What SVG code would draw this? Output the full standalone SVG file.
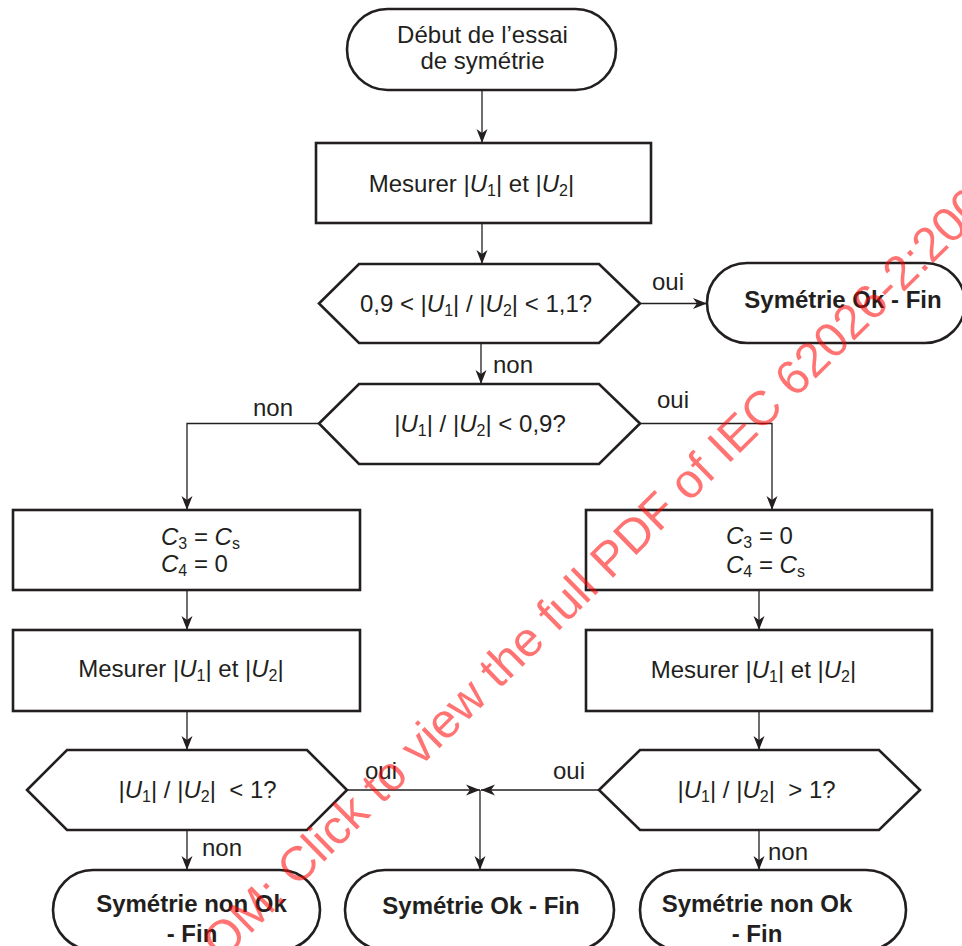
<svg xmlns="http://www.w3.org/2000/svg" width="962" height="946" viewBox="0 0 962 946">
<defs>
<style>
.n{fill:#fff;stroke:#231f20;stroke-width:2.6}
.c{fill:none;stroke:#231f20;stroke-width:1.3}
.t{font-family:"Liberation Sans",Arial,sans-serif;font-size:24px;fill:#231f20}
.m{text-anchor:middle}
.b{font-weight:bold}
.i{font-style:italic}
.s{font-size:16px}
.p{white-space:pre}
.wm{font-family:"Liberation Sans",Arial,sans-serif;font-size:48.5px;fill:#ff0000;fill-opacity:0.55}
</style>
<marker id="arr" viewBox="-15 -6 16 12" refX="0" refY="0" markerWidth="16" markerHeight="12" orient="auto" markerUnits="userSpaceOnUse">
<path d="M0,0 L-14,-5.5 L-10,0 L-14,5.5 Z" fill="#231f20"/>
</marker>
</defs>
<rect width="962" height="946" fill="#fff"/>

<g id="connectors">
<line class="c" x1="482" y1="90" x2="482" y2="143" marker-end="url(#arr)"/>
<line class="c" x1="482" y1="223" x2="482" y2="264" marker-end="url(#arr)"/>
<line class="c" x1="640" y1="303.5" x2="707" y2="303.5" marker-end="url(#arr)"/>
<line class="c" x1="481" y1="343" x2="481" y2="384" marker-end="url(#arr)"/>
<polyline class="c" points="319,423.5 187,423.5 187,510" marker-end="url(#arr)"/>
<polyline class="c" points="640,423.5 772,423.5 772,510" marker-end="url(#arr)"/>
<line class="c" x1="187" y1="590" x2="187" y2="630" marker-end="url(#arr)"/>
<line class="c" x1="759" y1="590" x2="759" y2="630" marker-end="url(#arr)"/>
<line class="c" x1="187" y1="711" x2="187" y2="750" marker-end="url(#arr)"/>
<line class="c" x1="759" y1="711" x2="759" y2="750" marker-end="url(#arr)"/>
<line class="c" x1="347" y1="790" x2="480" y2="790" marker-end="url(#arr)"/>
<line class="c" x1="599" y1="790" x2="481" y2="790" marker-end="url(#arr)"/>
<line class="c" x1="480" y1="790" x2="480" y2="870" marker-end="url(#arr)"/>
<line class="c" x1="187" y1="830" x2="187" y2="870" marker-end="url(#arr)"/>
<line class="c" x1="759" y1="830" x2="759" y2="870" marker-end="url(#arr)"/>
<text class="t" x="652" y="290">oui</text>
<text class="t" x="493" y="373">non</text>
<text class="t" x="253" y="416">non</text>
<text class="t" x="657" y="408">oui</text>
<text class="t" x="365" y="779">oui</text>
<text class="t" x="553" y="779">oui</text>
<text class="t" x="202" y="856">non</text>
<text class="t" x="768" y="860">non</text>
</g>

<g id="start">
<rect class="n" x="347" y="9" width="269" height="81" rx="40.5"/>
<text class="t m" x="482.5" y="43">Début de l’essai</text>
<text class="t m" x="482.5" y="69">de symétrie</text>
</g>

<g id="measure1">
<rect class="n" x="316" y="143" width="335" height="80"/>
<text class="t m" x="471.5" y="192">Mesurer |<tspan class="i">U</tspan><tspan class="s" dy="4">1</tspan><tspan dy="-4">| et |</tspan><tspan class="i">U</tspan><tspan class="s" dy="4">2</tspan><tspan dy="-4">|</tspan></text>
</g>

<g id="test1">
<polygon class="n" points="319,303.5 359,264 599,264 640,303.5 599,343 359,343"/>
<text class="t m" x="476" y="312">0,9 &lt; |<tspan class="i">U</tspan><tspan class="s" dy="4">1</tspan><tspan dy="-4">| / |</tspan><tspan class="i">U</tspan><tspan class="s" dy="4">2</tspan><tspan dy="-4">| &lt; 1,1?</tspan></text>
</g>

<g id="okTop">
<rect class="n" x="707" y="263" width="258" height="80" rx="40"/>
<text class="t m b" x="843" y="308">Symétrie Ok - Fin</text>
</g>

<g id="test2">
<polygon class="n" points="319,423.5 359,384 599,384 640,423.5 599,464 359,464"/>
<text class="t m" x="480" y="432">|<tspan class="i">U</tspan><tspan class="s" dy="4">1</tspan><tspan dy="-4">| / |</tspan><tspan class="i">U</tspan><tspan class="s" dy="4">2</tspan><tspan dy="-4">| &lt; 0,9?</tspan></text>
</g>

<g id="setLeft">
<rect class="n" x="13" y="510" width="347" height="80"/>
<text class="t" x="161" y="545"><tspan class="i">C</tspan><tspan class="s" dy="4">3</tspan><tspan dy="-4"> = </tspan><tspan class="i">C</tspan><tspan class="s" dy="4">s</tspan></text>
<text class="t" x="161" y="572"><tspan class="i">C</tspan><tspan class="s" dy="4">4</tspan><tspan dy="-4"> = 0</tspan></text>
</g>

<g id="setRight">
<rect class="n" x="586" y="510" width="346" height="80"/>
<text class="t" x="726" y="544"><tspan class="i">C</tspan><tspan class="s" dy="4">3</tspan><tspan dy="-4"> = 0</tspan></text>
<text class="t" x="726" y="573"><tspan class="i">C</tspan><tspan class="s" dy="4">4</tspan><tspan dy="-4"> = </tspan><tspan class="i">C</tspan><tspan class="s" dy="4">s</tspan></text>
</g>

<g id="measureLeft">
<rect class="n" x="13" y="630" width="347" height="81"/>
<text class="t m" x="181" y="677">Mesurer |<tspan class="i">U</tspan><tspan class="s" dy="4">1</tspan><tspan dy="-4">| et |</tspan><tspan class="i">U</tspan><tspan class="s" dy="4">2</tspan><tspan dy="-4">|</tspan></text>
</g>

<g id="measureRight">
<rect class="n" x="586" y="630" width="346" height="81"/>
<text class="t m" x="753.5" y="678">Mesurer |<tspan class="i">U</tspan><tspan class="s" dy="4">1</tspan><tspan dy="-4">| et |</tspan><tspan class="i">U</tspan><tspan class="s" dy="4">2</tspan><tspan dy="-4">|</tspan></text>
</g>

<g id="testLeft">
<polygon class="n" points="27,790 67,750 307,750 347,790 307,830 67,830"/>
<text class="t m p" x="197.5" y="798">|<tspan class="i">U</tspan><tspan class="s" dy="4">1</tspan><tspan dy="-4">| / |</tspan><tspan class="i">U</tspan><tspan class="s" dy="4">2</tspan><tspan dy="-4">|  &lt; 1?</tspan></text>
</g>

<g id="testRight">
<polygon class="n" points="599,790 640,750 879,750 920,790 879,830 640,830"/>
<text class="t m p" x="756.5" y="798">|<tspan class="i">U</tspan><tspan class="s" dy="4">1</tspan><tspan dy="-4">| / |</tspan><tspan class="i">U</tspan><tspan class="s" dy="4">2</tspan><tspan dy="-4">|  &gt; 1?</tspan></text>
</g>

<g id="notOkLeft">
<rect class="n" x="53" y="870" width="267" height="80" rx="40"/>
<text class="t m b" x="191.5" y="912">Symétrie non Ok</text>
<text class="t m b" x="192" y="942">- Fin</text>
</g>

<g id="okBottom">
<rect class="n" x="345" y="870" width="269" height="80" rx="40"/>
<text class="t m b" x="481" y="914">Symétrie Ok - Fin</text>
</g>

<g id="notOkRight">
<rect class="n" x="640" y="870" width="266" height="80" rx="40"/>
<text class="t m b" x="757" y="912">Symétrie non Ok</text>
<text class="t m b" x="757" y="942">- Fin</text>
</g>

<text class="wm" x="222" y="962" transform="rotate(-44.5 222 962)">OM: Click to view the full PDF of IEC 62026-2:200</text>
</svg>
